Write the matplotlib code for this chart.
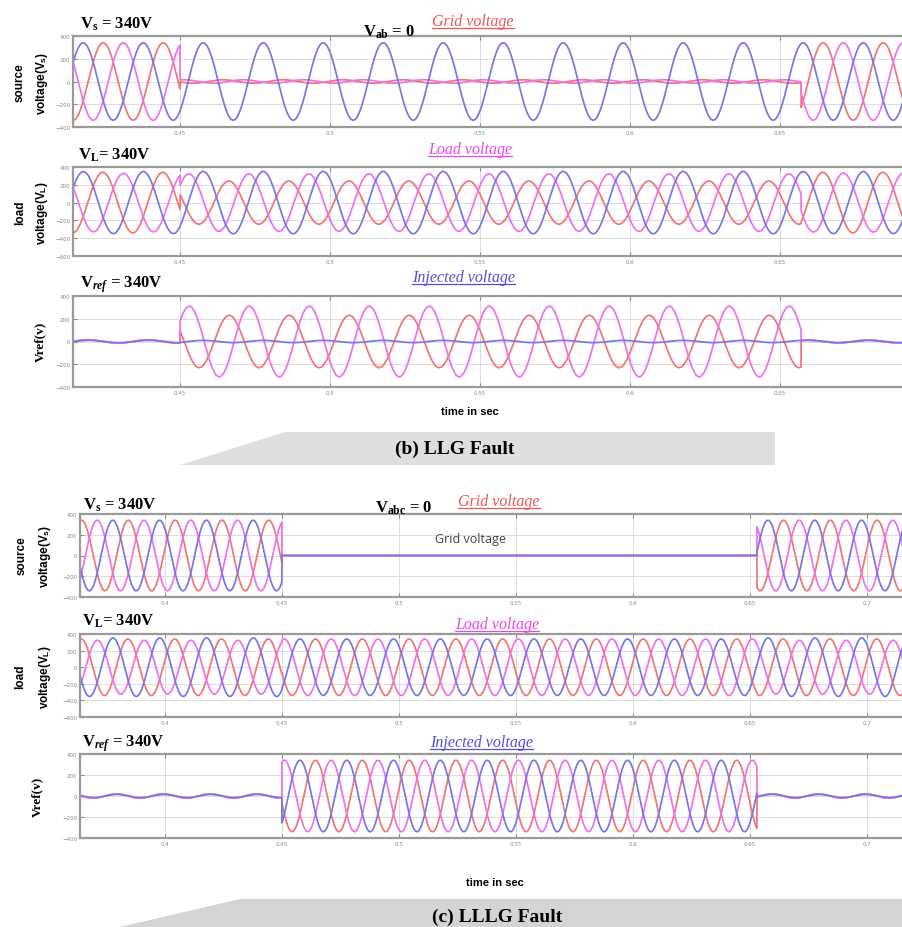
import numpy as np
import matplotlib
matplotlib.use('Agg')
import matplotlib.pyplot as plt
from matplotlib.lines import Line2D
from matplotlib.patches import Polygon

plt.rcParams['mathtext.fontset'] = 'custom'
plt.rcParams['mathtext.rm'] = 'Liberation Serif'
plt.rcParams['mathtext.it'] = 'Liberation Serif:italic:bold'
plt.rcParams['mathtext.bf'] = 'Liberation Serif:bold'
plt.rcParams['mathtext.sf'] = 'Liberation Sans:bold'

W, H = 903, 928

# phase a / b / c
f_grid = 50
phase_colors = ['#f27474', '#ee70ee', '#7676ea']
phase_shift = [0.032, 0.698, 0.365]   # in cycles

# (b) LLG fault : amplitudes before / during / after the fault
llg_edges = [0.45, 0.657]
llg_src_amp = [[340, 340, 340], [15, 15, 340], [340, 340, 340]]
llg_inj_amp = [[15, 15, 10], [230, 310, 10], [12, 12, 10]]
llg_inj_shift = [[0.25, 0.6, 0.9], [-0.1, -0.1, 0.0], [0.25, 0.6, 0.9]]
llg_xticks = [0.45, 0.5, 0.55, 0.6, 0.65]
llg_xlim = [0.4143, 0.6933]

# (c) LLLG fault
lllg_edges = [0.45, 0.653]
lllg_src_amp = [[340, 340, 340], [0, 0, 0], [340, 340, 340]]
lllg_inj_amp = [[20, 20, 15], [340, 340, 340], [20, 20, 15]]
lllg_inj_shift = [[0.25, 0.6, 0.9], [0.0, 0.0, 0.0], [0.25, 0.6, 0.9]]
lllg_xticks = [0.4, 0.45, 0.5, 0.55, 0.6, 0.65, 0.7]
lllg_xlim = [0.3637, 0.7184]

yticks_src = [-400, -200, 0, 200, 400]
yticks_load = [-600, -400, -200, 0, 200, 400]


def build(t, edges, amps, shifts=None):
    seg = np.searchsorted(edges, t)
    out = []
    for k in range(3):
        a = np.array([s[k] for s in amps])[seg]
        d = 0 if shifts is None else np.array([s[k] for s in shifts])[seg]
        out.append(a * np.sin(2 * np.pi * (f_grid * t + phase_shift[k] + d)))
    return out


fig = plt.figure(figsize=(W / 100, H / 100), dpi=100)
fig.patch.set_facecolor('white')


def px(x, y):
    return x / W, 1 - y / H


def panel(l, top, r, bot, t, curves, xlim, ylim, yticks, xticks):
    ax = fig.add_axes([l / W, 1 - bot / H, (r - l) / W, (bot - top) / H])
    for y, c in zip(curves, phase_colors):
        ax.plot(t, y, color=c, lw=1.25)
    ax.set_xlim(xlim)
    ax.set_ylim(ylim)
    ax.set_xticks(xticks)
    ax.set_xticklabels(['%g' % v for v in xticks])
    ax.set_yticks(yticks)
    ax.grid(color='#dcdcdc', lw=0.7)
    ax.tick_params(labelsize=4, colors='#8a8a8a', length=3, direction='in',
                   top=True, pad=2)
    for s in ax.spines.values():
        s.set_color('#9a9a9a')
        s.set_linewidth(1.6)
    return ax


def label(x, y, s, **kw):
    fx, fy = px(x, y)
    return fig.text(fx, fy, s, **kw)


renderer = fig.canvas.get_renderer()


def underlined(x, y, s, color, size):
    txt = label(x, y, s, color=color, fontsize=size, style='italic',
                family='Liberation Serif', va='center')
    bb = txt.get_window_extent(renderer).transformed(fig.transFigure.inverted())
    fig.add_artist(Line2D([bb.x0, bb.x1], [bb.y0 + 0.001, bb.y0 + 0.001],
                          color=color, lw=0.9, transform=fig.transFigure))


def ylab2(x1, x2, y, top, bottom):
    label(x1, y, top, rotation=90, fontsize=8.5, fontweight='bold',
          family='Liberation Sans', ha='center', va='center')
    label(x2, y, bottom, rotation=90, fontsize=8.5, fontweight='bold',
          family='Liberation Sans', ha='center', va='center')


serif_bold = dict(fontsize=12, fontweight='bold', family='Liberation Serif',
                  va='center')

# ---------------- (b) LLG fault ----------------
tb = np.linspace(llg_xlim[0], llg_xlim[1], 6000)
src_b = build(tb, llg_edges, llg_src_amp)
inj_b = build(tb, llg_edges, llg_inj_amp, llg_inj_shift)
load_b = [s + i for s, i in zip(src_b, inj_b)]

panel(73, 37, 910, 128, tb, src_b, llg_xlim, (-400, 400), yticks_src, llg_xticks)
panel(73, 168, 910, 257, tb, load_b, llg_xlim, (-600, 400), yticks_load, llg_xticks)
panel(73, 297, 910, 388, tb, inj_b, llg_xlim, (-400, 400), yticks_src, llg_xticks)

label(80, 24, r'$\mathbf{V_{s}}$ = 340V', **serif_bold)
label(363, 32, r'$\mathbf{V_{ab}}$ = 0', **serif_bold)
underlined(432, 22, 'Grid voltage', '#f05454', 11.5)
label(78, 155, r'$\mathbf{V_{L}}$= 340V', **serif_bold)
underlined(428, 150, 'Load voltage', '#ee44ee', 11.5)
label(80, 285, r'$\mathbf{V}_{ref}$ = 340V', **serif_bold)
underlined(412, 278, 'Injected voltage', '#5050d8', 11.5)

ylab2(20, 42, 83, 'source', r'voltage(V$_\mathsf{s}$)')
ylab2(20, 42, 213, 'load', r'voltage(V$_\mathsf{L}$)')
label(40, 342, 'Vref(v)', rotation=90, fontsize=9.5, fontweight='bold',
      family='Liberation Serif', ha='center', va='center')
label(470, 412, 'time in sec', fontsize=8, fontweight='bold',
      family='Liberation Sans', ha='center', va='center')

fig.add_artist(Polygon([px(180, 466), px(285, 433), px(775, 433), px(775, 466)],
                       closed=True, facecolor='#dedede', edgecolor='none',
                       transform=fig.transFigure, zorder=-1))
label(455, 449, '(b) LLG Fault', fontsize=14, fontweight='bold',
      family='Liberation Serif', ha='center', va='center')

# ---------------- (c) LLLG fault ----------------
tc = np.linspace(lllg_xlim[0], lllg_xlim[1], 7000)
src_c = build(tc, lllg_edges, lllg_src_amp)
inj_c = build(tc, lllg_edges, lllg_inj_amp, lllg_inj_shift)
load_c = [s + i for s, i in zip(src_c, inj_c)]

panel(80, 515, 910, 598, tc, src_c, lllg_xlim, (-400, 400), yticks_src, lllg_xticks)
panel(80, 635, 910, 718, tc, load_c, lllg_xlim, (-600, 400), yticks_load, lllg_xticks)
panel(80, 755, 910, 839, tc, inj_c, lllg_xlim, (-400, 400), yticks_src, lllg_xticks)

label(83, 505, r'$\mathbf{V_{s}}$ = 340V', **serif_bold)
label(375, 508, r'$\mathbf{V_{abc}}$ = 0', **serif_bold)
underlined(458, 502, 'Grid voltage', '#f05454', 11.5)
label(435, 540, 'Grid voltage', fontsize=9, family='Open Sans', color='#444444',
      va='center')
label(82, 621, r'$\mathbf{V_{L}}$= 340V', **serif_bold)
underlined(455, 625, 'Load voltage', '#ee44ee', 11.5)
label(82, 744, r'$\mathbf{V}_{ref}$ = 340V', **serif_bold)
underlined(430, 743, 'Injected voltage', '#5050d8', 11.5)

ylab2(22, 45, 556, 'source', r'voltage(V$_\mathsf{s}$)')
ylab2(20, 45, 677, 'load', r'voltage(V$_\mathsf{L}$)')
label(37, 797, 'Vref(v)', rotation=90, fontsize=9.5, fontweight='bold',
      family='Liberation Serif', ha='center', va='center')
label(495, 883, 'time in sec', fontsize=8, fontweight='bold',
      family='Liberation Sans', ha='center', va='center')

fig.add_artist(Polygon([px(120, 928), px(240, 900), px(903, 900), px(903, 928)],
                       closed=True, facecolor='#d4d4d4', edgecolor='none',
                       transform=fig.transFigure, zorder=-1))
label(497, 917, '(c) LLLG Fault', fontsize=14, fontweight='bold',
      family='Liberation Serif', ha='center', va='center')

fig.savefig('out.png', dpi=100)
